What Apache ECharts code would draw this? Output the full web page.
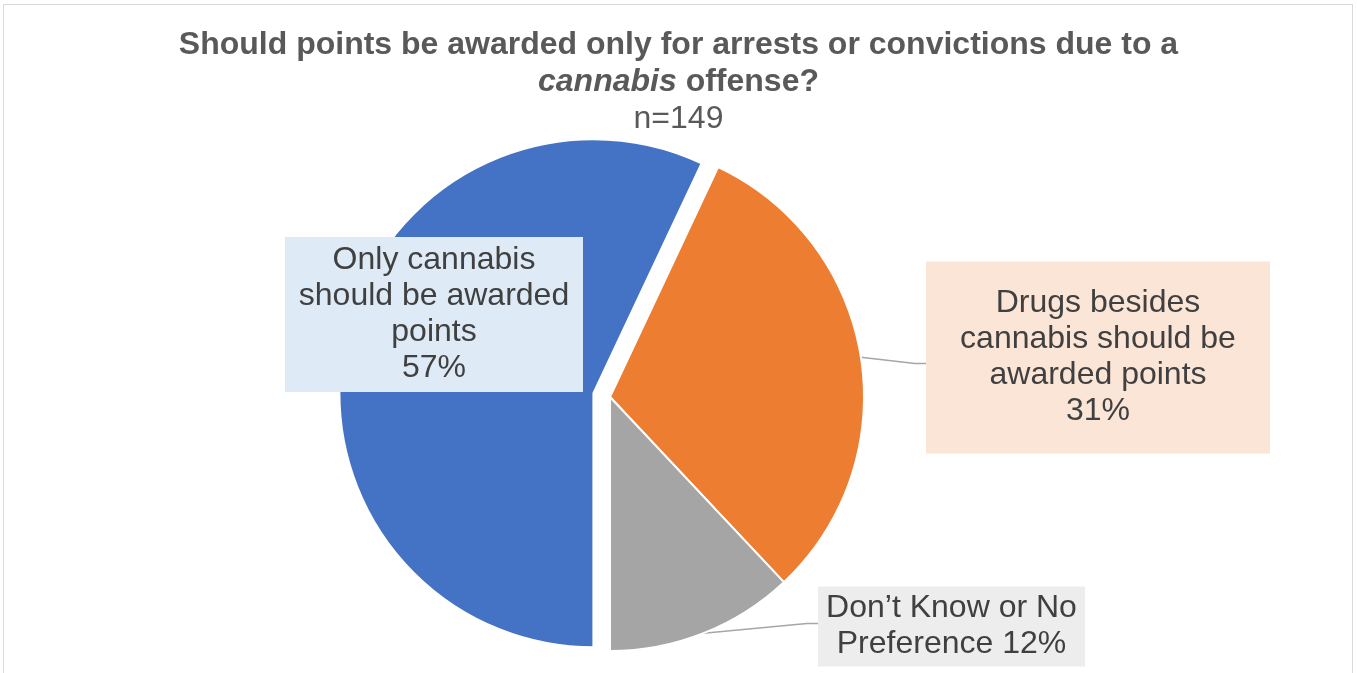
<!DOCTYPE html>
<html>
<head>
<meta charset="utf-8">
<title>Cannabis offense points</title>
<script src="https://cdn.jsdelivr.net/npm/echarts@6/dist/echarts.min.js"></script>
<style>
  html, body { margin: 0; padding: 0; background: #fff; }
  #chart { width: 1357px; height: 673px; }
  /* thin frame like the office chart area */
  #frame { position: absolute; left: 3px; top: 4px; width: 1348px; height: 690px;
           border: 1px solid #D9D9D9; pointer-events: none; }
</style>
</head>
<body>
<div id="chart"></div>
<div id="frame"></div>
<script>
  // data
  const categories = [
    'Only cannabis\nshould be awarded\npoints',
    'Drugs besides\ncannabis should be\nawarded points',
    'Don\u2019t Know or No\nPreference'
  ]
  const shares = [57, 31, 12]
  const sampleSize = 149

  // styles
  const sliceColors = ['#4472C4', '#ED7D31', '#A5A5A5']
  const boxColors = ['#DEEAF6', '#FBE5D6', '#EDEDED']
  // label boxes: centre x, centre y, width, padding, where the leader line meets the box
  const boxes = [
    { x: 434, y: 314.5, w: 298, pad: [7, 0, 4, 0], ly: 0 },
    { x: 1098, y: 357.5, w: 344, pad: [27, 0, 21, 0], ly: 6 },
    { x: 951.5, y: 626.5, w: 267, pad: [4, 0, 4, 0], ly: -3 }
  ]
  const font = '"Liberation Sans", Arial, sans-serif'
  const pieCenter = [610, 397]
  const pieRadius = 254
  const explode = 17

  const chart = echarts.init(document.getElementById('chart'))

  // the first slice is pulled out along its middle angle (clockwise from the bottom)
  const total = shares.reduce((a, b) => a + b, 0)
  const midDeg = 180 + shares[0] / total * 180
  const midRad = midDeg * Math.PI / 180
  const explodedCenter = [
    pieCenter[0] + explode * Math.sin(midRad),
    pieCenter[1] - explode * Math.cos(midRad)
  ]

  // build pie data, only the slices in `visible` get drawn and labelled
  function makeData(visible) {
    return categories.map((name, i) => {
      const show = visible.indexOf(i) >= 0
      return {
        name: name,
        value: shares[i],
        itemStyle: show
          ? { color: sliceColors[i], borderColor: '#fff', borderWidth: 2 }
          : { color: 'rgba(0,0,0,0)', borderWidth: 0 },
        label: show
          ? {
              position: i === 0 ? 'inside' : 'outside',
              backgroundColor: boxColors[i],
              width: boxes[i].w,
              padding: boxes[i].pad
            }
          : { show: false },
        labelLine: { show: show && i !== 0 }
      }
    })
  }

  const labelLayout = params => {
    const b = boxes[params.dataIndex]
    const left = b.x - params.labelRect.width / 2
    const res = { x: b.x, y: b.y, align: 'center', verticalAlign: 'middle' }
    if (params.labelLinePoints) {
      const p0 = params.labelLinePoints[0]
      res.labelLinePoints = [p0, [left - 11, b.y + b.ly], [left, b.y + b.ly]]
    }
    return res
  }

  const pieBase = {
    type: 'pie',
    radius: pieRadius,
    startAngle: 270,
    clockwise: true,
    avoidLabelOverlap: false,
    emphasis: { disabled: true },
    label: {
      fontFamily: font,
      fontSize: 32,
      lineHeight: 36,
      color: '#404040',
      align: 'center',
      formatter: p => p.name + (p.dataIndex === 2 ? ' ' : '\n') + p.value + '%'
    },
    labelLine: {
      lineStyle: { color: '#A6A6A6', width: 1.5 }
    },
    labelLayout: labelLayout
  }

  const titleText = { fontFamily: font, fontSize: 32, color: '#595959', lineHeight: 37 }

  const option = {
    animation: false,
    title: {
      left: 'center',
      top: 27,
      padding: 0,
      text: '{b|Should points be awarded only for arrests or convictions due to a}\n' +
            '{bi|cannabis}{b| offense?}\n{n|n=' + sampleSize + '}',
      textStyle: {
        rich: {
          b: Object.assign({ fontWeight: 'bold' }, titleText),
          bi: Object.assign({ fontWeight: 'bold', fontStyle: 'italic' }, titleText),
          n: Object.assign({ fontWeight: 'normal' }, titleText)
        }
      }
    },
    series: [
      Object.assign({}, pieBase, { center: explodedCenter, data: makeData([0]) }),
      Object.assign({}, pieBase, { center: pieCenter, data: makeData([1, 2]) })
    ]
  }

  chart.setOption(option)
</script>
</body>
</html>
